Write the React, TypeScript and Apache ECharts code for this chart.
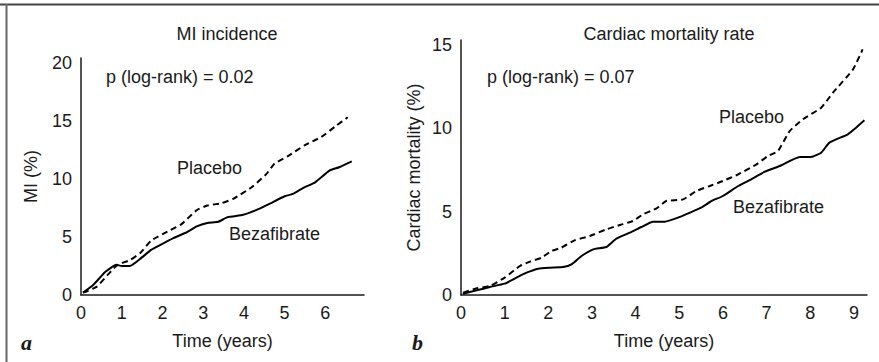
import React, { useEffect, useRef } from "react";
import * as echarts from "echarts";

const miXTicks = [0, 1, 2, 3, 4, 5, 6];
const miYTicks = [0, 5, 10, 15, 20];
const cmXTicks = [0, 1, 2, 3, 4, 5, 6, 7, 8, 9];
const cmYTicks = [0, 5, 10, 15];

const miBezafibrate: [number, number][] = [
  [0.05, 0.2], [0.3, 0.86], [0.6, 2.0], [0.87, 2.6], [1.0, 2.5], [1.2, 2.5], [1.45, 3.1],
  [1.73, 3.9], [1.94, 4.3], [2.27, 4.9], [2.6, 5.4], [2.84, 5.9], [3.1, 6.2], [3.37, 6.3],
  [3.6, 6.7], [3.98, 6.9], [4.3, 7.3], [4.6, 7.8], [5.0, 8.5], [5.2, 8.7], [5.45, 9.2],
  [5.75, 9.7], [6.1, 10.7], [6.34, 11.0], [6.65, 11.5],
];
const miPlacebo: [number, number][] = [
  [0.05, 0.2], [0.38, 0.7], [0.7, 1.9], [0.9, 2.6], [1.2, 3.0], [1.45, 3.6], [1.73, 4.7],
  [2.2, 5.6], [2.47, 6.1], [2.84, 7.3], [3.1, 7.7], [3.45, 7.9], [3.75, 8.3], [4.2, 9.3],
  [4.55, 10.4], [4.75, 11.3], [5.1, 12.0], [5.5, 12.9], [5.9, 13.6], [6.28, 14.6], [6.55, 15.3],
];
const cmBezafibrate: [number, number][] = [
  [0.04, 0.08], [0.36, 0.28], [0.66, 0.48], [1.0, 0.68], [1.27, 1.04], [1.5, 1.34],
  [1.77, 1.58], [2.04, 1.64], [2.34, 1.68], [2.53, 1.84], [2.76, 2.34], [3.03, 2.74],
  [3.33, 2.88], [3.56, 3.38], [3.87, 3.74], [4.13, 4.08], [4.4, 4.4], [4.67, 4.4],
  [4.97, 4.64], [5.24, 4.94], [5.5, 5.24], [5.74, 5.64], [6.0, 5.94], [6.35, 6.54],
  [6.65, 6.94], [6.96, 7.4], [7.3, 7.74], [7.76, 8.28], [8.02, 8.28], [8.25, 8.54],
  [8.44, 9.14], [8.86, 9.64], [9.05, 10.04], [9.24, 10.48],
];
const cmPlacebo: [number, number][] = [
  [0.05, 0.14], [0.36, 0.4], [0.66, 0.54], [1.0, 1.04], [1.35, 1.74], [1.58, 2.0],
  [1.85, 2.24], [2.07, 2.64], [2.3, 2.84], [2.6, 3.28], [2.95, 3.54], [3.33, 3.94],
  [3.64, 4.2], [3.94, 4.44], [4.17, 4.84], [4.48, 5.2], [4.7, 5.64], [5.09, 5.74],
  [5.39, 6.24], [5.7, 6.54], [6.0, 6.84], [6.35, 7.24], [6.77, 7.84], [7.03, 8.34],
  [7.26, 8.64], [7.53, 9.84], [7.83, 10.54], [8.25, 11.24], [8.52, 12.14], [8.98, 13.54],
  [9.2, 14.74],
];

const titles = ["MI incidence", "Cardiac mortality rate"];
const pValues = ["p (log-rank) = 0.02", "p (log-rank) = 0.07"];
const yNames = ["MI (%)", "Cardiac mortality (%)"];
const xName = "Time (years)";
const panelLetters = ["a", "b"];
const seriesNames = ["Placebo", "Bezafibrate"];

const FONT = "'Liberation Sans', Arial, Helvetica, sans-serif";
const FS = 18;
const INK = "#1a1a1a";

export default function App() {
  const ref = useRef<HTMLDivElement>(null);
  useEffect(() => {
    if (!ref.current) return;
    const chart = echarts.init(ref.current, null, { renderer: "svg" });
    const intLabel = (ticks: number[]) => (v: number) => (ticks.includes(v) ? String(v) : "");
    const mkX = (gridIndex: number, max: number, ticks: number[]) => ({
      type: "value",
      gridIndex,
      min: 0,
      max,
      interval: 1,
      name: xName,
      nameLocation: "middle",
      nameGap: 37,
      nameTextStyle: { fontFamily: FONT, fontSize: FS, color: INK },
      axisLine: { show: true, lineStyle: { color: INK, width: 1.5 } },
      axisTick: { show: false },
      splitLine: { show: false },
      axisLabel: { formatter: intLabel(ticks), fontFamily: FONT, fontSize: FS, color: INK, margin: 9 },
    });
    const mkY = (gridIndex: number, max: number, ticks: number[], name: string, gap: number) => ({
      type: "value",
      gridIndex,
      min: 0,
      max,
      interval: 5,
      name,
      nameLocation: "middle",
      nameGap: gap,
      nameTextStyle: { fontFamily: FONT, fontSize: FS, color: INK },
      axisLine: { show: true, lineStyle: { color: INK, width: 1.5 } },
      axisTick: { show: false },
      splitLine: { show: false },
      axisLabel: { formatter: intLabel(ticks), fontFamily: FONT, fontSize: FS, color: INK, margin: 9 },
    });
    const lineSeries = (name: string, data: [number, number][], idx: number, dashed: boolean) => ({
      type: "line",
      name,
      xAxisIndex: idx,
      yAxisIndex: idx,
      data,
      showSymbol: false,
      smooth: 0.15,
      lineStyle: { color: "#000", width: 2, type: dashed ? [6, 4] : "solid" },
    });
    const txt = (x: number, y: number, text: string, extra: any = {}) => ({
      type: "text",
      x,
      y,
      style: { text, fontFamily: FONT, fontSize: FS, fill: INK, verticalAlign: "middle", ...extra },
    });
    chart.setOption({
      animation: false,
      title: [
        { text: titles[0], left: 222, top: 29, textAlign: "center", textVerticalAlign: "middle",
          textStyle: { fontFamily: FONT, fontSize: FS, fontWeight: "normal", color: INK } },
        { text: titles[1], left: 664, top: 29, textAlign: "center", textVerticalAlign: "middle",
          textStyle: { fontFamily: FONT, fontSize: FS, fontWeight: "normal", color: INK } },
      ],
      grid: [
        { left: 81, top: 58, width: 283, height: 237 },
        { left: 461, top: 40, width: 406, height: 255 },
      ],
      xAxis: [mkX(0, 6.95, miXTicks), mkX(1, 9.3, cmXTicks)],
      yAxis: [mkY(0, 20.4, miYTicks, yNames[0], 41), mkY(1, 15.3, cmYTicks, yNames[1], 38)],
      series: [
        lineSeries(seriesNames[0], miPlacebo, 0, true),
        lineSeries(seriesNames[1], miBezafibrate, 0, false),
        lineSeries(seriesNames[0], cmPlacebo, 1, true),
        lineSeries(seriesNames[1], cmBezafibrate, 1, false),
      ],
      graphic: [
        { type: "line", shape: { x1: 0, y1: 4.5, x2: 879, y2: 4.5 }, style: { stroke: "#444", lineWidth: 2 } },
        { type: "line", shape: { x1: 6.5, y1: 4, x2: 6.5, y2: 362 }, style: { stroke: "#666", lineWidth: 2 } },
        txt(106, 77, pValues[0]),
        txt(487, 77, pValues[1]),
        txt(177, 168, seriesNames[0]),
        txt(229, 234, seriesNames[1]),
        txt(719, 117, seriesNames[0]),
        txt(733, 207, seriesNames[1]),
        txt(21, 342, panelLetters[0], { fontFamily: "'Liberation Serif', 'DejaVu Serif', serif", fontStyle: "italic", fontWeight: "bold", fontSize: 22 }),
        txt(412, 342, panelLetters[1], { fontFamily: "'Liberation Serif', 'DejaVu Serif', serif", fontStyle: "italic", fontWeight: "bold", fontSize: 22 }),
      ],
    });
    return () => chart.dispose();
  }, []);
  return <div ref={ref} style={{ width: 879, height: 362, position: "absolute", left: 0, top: 0 }} />;
}
